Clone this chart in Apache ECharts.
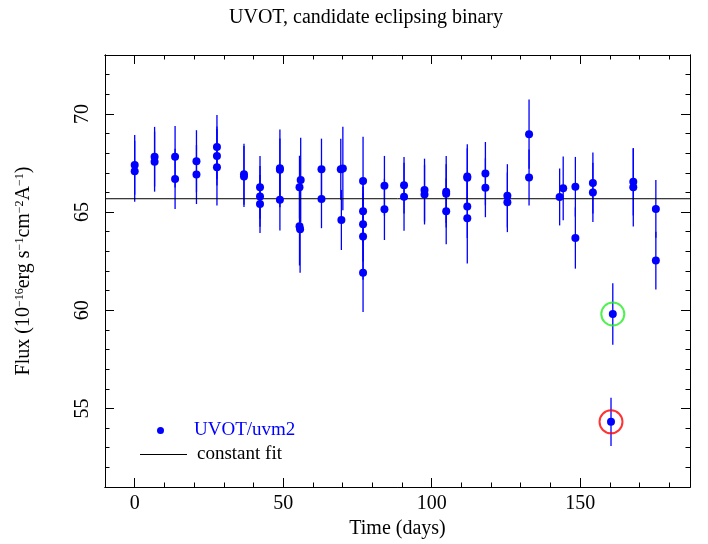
<!DOCTYPE html>
<html>
<head>
<meta charset="utf-8">
<script src="https://cdn.jsdelivr.net/npm/echarts@6/dist/echarts.min.js"></script>
<style>html,body{margin:0;padding:0;background:#fff}#c{width:708px;height:544px}</style>
</head>
<body>
<div id="c"></div>
<script>
// Observation times (days)
const days = [0,0, 6.7,6.7, 13.6,13.6, 20.8,20.8, 27.7,27.7,27.7, 36.8,36.8, 42.2,42.2,42.2,
  48.9,48.9,48.9, 55.9,55.5,55.5,55.7, 62.9,62.9, 69.4,70.1,69.6, 76.9,76.9,76.9,76.9,76.9,
  84.1,84.1, 90.7,90.7, 97.6,97.6, 104.9,104.9,104.9, 112,112,112,112, 118.1,118.1,
  125.5,125.5, 132.8,132.8, 143.1, 144.3, 148.4,148.4, 154.3,154.3, 161.0, 160.4,
  167.9,167.9, 175.5,175.5];
// UVOT/uvm2 flux (1e-16 erg/s/cm2/A)
const flux = [67.40,67.08, 67.82,67.57, 67.82,66.69, 67.59,66.91, 68.31,67.86,67.28, 66.93,66.81, 66.26,65.80,65.41,
  67.23,67.15,65.63, 66.64,66.27,64.28,64.13, 67.18,65.67, 67.18,67.22,64.60, 66.58,65.04,64.38,63.76,61.91,
  66.34,65.14, 66.37,65.78, 66.12,65.89, 66.04,65.94,65.04, 66.81,66.75,65.28,64.69, 66.96,66.24,
  65.83,65.50, 68.97,66.76, 65.77, 66.21, 66.29,63.68, 66.48,66.00, 59.81, 54.32,
  66.54,66.26, 65.16,62.53];
// 1-sigma errors
const fluxErr = [1.52,1.55, 1.52,1.53, 1.57,1.53, 1.58,1.50, 1.64,1.50,1.95, 1.55,1.55, 1.60,1.55,1.48,
  1.98,1.60,1.57, 2.15,1.60,2.00,2.22, 1.56,1.49, 1.55,2.12,1.53, 2.26,1.60,1.90,2.20,2.00,
  1.52,1.56, 1.44,1.73, 1.60,1.52, 1.82,1.50,1.68, 1.64,1.50,1.60,2.31, 1.61,1.50,
  1.61,1.52, 1.76,1.43, 1.45, 1.62, 1.52,1.56, 1.55,1.51, 1.56, 1.23,
  1.71,1.99, 1.47,1.47];
// constant fit level
const constFit = 65.68;
// highlighted (circled) points
const greenMark = [161.0, 59.81];
const redMark = [160.4, 54.32];
// axis ranges and ticks
const xMin = -10, xMax = 187, yMin = 51, yMax = 73;
const xMajor = [0, 50, 100, 150];
const xMinor = [-10,10,20,30,40,60,70,80,90,110,120,130,140,160,170,180];
const yMajor = [55, 60, 65, 70];
const yMinor = [52,53,54,56,57,58,59,61,62,63,64,66,67,68,69,71,72];

const FONT = 'Liberation Serif';
const BLUE = '#0000ff';

const pts = days.map((d, i) => [d, flux[i], fluxErr[i]]);

function xAx(pos, vals, len, labels) {
  return {
    type: 'value', position: pos, min: xMin, max: xMax,
    axisLine: {show: true, onZero: false, lineStyle: {color: '#000', width: 1}},
    axisTick: {show: true, inside: true, length: len, customValues: vals, lineStyle: {color: '#000', width: 1}},
    axisLabel: labels ? {show: true, customValues: xMajor, margin: 7, fontFamily: FONT, fontSize: 20, color: '#000'} : {show: false},
    splitLine: {show: false}
  };
}
function yAx(pos, vals, len, labels) {
  return {
    type: 'value', position: pos, min: yMin, max: yMax,
    axisLine: {show: true, onZero: false, lineStyle: {color: '#000', width: 1}},
    axisTick: {show: true, inside: true, length: len, customValues: vals, lineStyle: {color: '#000', width: 1}},
    axisLabel: labels ? {show: true, customValues: yMajor, rotate: 90, margin: 12, fontFamily: FONT, fontSize: 20, color: '#000'} : {show: false},
    splitLine: {show: false}
  };
}

const xAxes = [xAx('bottom', xMajor, 9, true), xAx('bottom', xMinor, 4.5, false), xAx('top', xMajor, 9, false), xAx('top', xMinor, 4.5, false)];
xAxes[0].name = 'Time (days)';
xAxes[0].nameLocation = 'middle';
xAxes[0].nameGap = 32;
xAxes[0].nameTextStyle = {fontFamily: FONT, fontSize: 20, color: '#000'};

const yAxes = [yAx('left', yMajor, 9, true), yAx('left', yMinor, 4.5, false), yAx('right', yMajor, 9, false), yAx('right', yMinor, 4.5, false)];
yAxes[0].name = 'Flux (10{sup|\u221216}erg s{sup|\u22121}cm{sup|\u22122}A{sup|\u22121})';
yAxes[0].nameLocation = 'middle';
yAxes[0].nameRotate = 90;
yAxes[0].nameGap = 71;
yAxes[0].nameTextStyle = {fontFamily: FONT, fontSize: 20, color: '#000',
  rich: {sup: {fontFamily: FONT, fontSize: 12, color: '#000', verticalAlign: 'top'}}};

const chart = echarts.init(document.getElementById('c'), null, {renderer: 'canvas'});
chart.setOption({
  animation: false,
  backgroundColor: '#fff',
  title: {text: 'UVOT, candidate eclipsing binary', left: 224, top: 3,
    textStyle: {fontFamily: FONT, fontSize: 20, fontWeight: 'normal', color: '#000'}},
  grid: {left: 105, right: 18, top: 55, bottom: 55},
  legend: [
    {data: [{name: 'UVOT/uvm2', icon: 'circle', textStyle: {color: BLUE}}],
     left: 152, top: 416, itemWidth: 7, itemHeight: 7,
     textStyle: {fontFamily: FONT, fontSize: 19, color: BLUE, padding: [0, 0, 0, 25]}},
    {data: [{name: 'constant fit', icon: 'rect'}],
     left: 135, top: 440, itemWidth: 47, itemHeight: 1.2,
     textStyle: {fontFamily: FONT, fontSize: 19, color: '#000', padding: [0, 0, 0, 5]}}
  ],
  xAxis: xAxes,
  yAxis: yAxes,
  series: [
    {
      type: 'custom', name: 'errors', xAxisIndex: 0, yAxisIndex: 0, silent: true,
      data: pts,
      renderItem: function (params, api) {
        const x = api.value(0), y = api.value(1), e = api.value(2);
        const p1 = api.coord([x, y - e]);
        const p2 = api.coord([x, y + e]);
        return {type: 'line', shape: {x1: p1[0], y1: p1[1], x2: p2[0], y2: p2[1]},
          style: {stroke: BLUE, lineWidth: 1.3}};
      },
      z: 2
    },
    {
      type: 'line', name: 'constant fit', xAxisIndex: 0, yAxisIndex: 0,
      data: [[xMin, constFit], [xMax, constFit]], showSymbol: false, symbol: 'none',
      lineStyle: {color: '#000', width: 1}, itemStyle: {color: '#000'}, z: 3
    },
    {
      type: 'scatter', name: 'UVOT/uvm2', xAxisIndex: 0, yAxisIndex: 0,
      data: pts.map(p => [p[0], p[1]]), symbol: 'circle', symbolSize: 8,
      itemStyle: {color: BLUE, opacity: 1}, z: 4
    },
    {
      type: 'scatter', name: 'green', xAxisIndex: 0, yAxisIndex: 0,
      data: [greenMark], symbol: 'circle', symbolSize: 23,
      itemStyle: {color: 'rgba(0,0,0,0)', borderColor: '#22ee22', borderWidth: 2}, z: 5
    },
    {
      type: 'scatter', name: 'red', xAxisIndex: 0, yAxisIndex: 0,
      data: [redMark], symbol: 'circle', symbolSize: 23,
      itemStyle: {color: 'rgba(0,0,0,0)', borderColor: '#ff0000', borderWidth: 2}, z: 5
    }
  ]
});
</script>
</body>
</html>
